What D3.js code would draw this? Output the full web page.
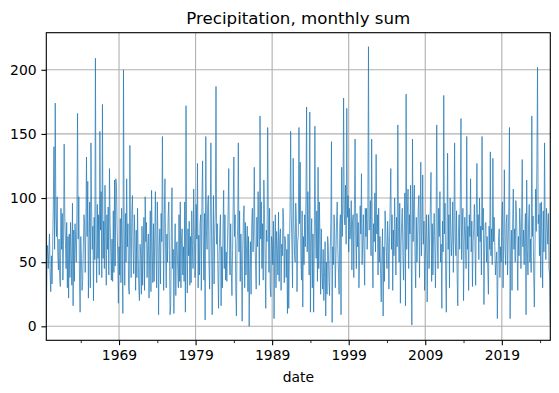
<!DOCTYPE html>
<html><head><meta charset="utf-8">
<script src="https://cdn.jsdelivr.net/npm/d3@7"></script>
<style>
body{margin:0;background:#fff}
svg{display:block}
text{font-family:"DejaVu Sans",sans-serif;fill:#000}
</style>
</head><body>
<svg id="chart" width="559" height="393"></svg>
<script>
// ---- data: monthly precipitation sums, starting July 1959 ----
const startYear = 1959, startMonth = 7;
const precip1959 = [3, 50, 63, 45, 58, 72];
const precip1960s = [
 40, 27, 55, 33, 63, 95, 140, 60, 174, 87, 70, 101,
 55, 44, 68, 38, 31, 92, 60, 88, 36, 63, 142, 85,
 66, 45, 81, 30, 70, 22, 72, 38, 81, 55, 32, 96,
 16, 75, 35, 80, 65, 50, 90, 166, 68, 101, 40, 11,
 70, 53, 28, 35, 60, 87, 81, 42, 75, 132, 70, 113,
 22, 64, 97, 30, 143, 92, 60, 78, 20, 85, 52, 209,
 66, 34, 95, 53, 87, 40, 152, 75, 105, 38, 173, 53,
 82, 45, 110, 70, 32, 87, 60, 93, 40, 123, 80, 58,
 36, 68, 35, 90, 42, 114, 47, 115, 110, 76, 55, 18,
 62, 40, 84, 34, 92, 65, 10, 200, 77, 32, 88, 50];
const precip1970s = [
 115, 62, 80, 30, 25, 141, 70, 38, 88, 102, 60, 41,
 87, 66, 28, 75, 38, 92, 57, 30, 20, 64, 55, 25,
 78, 32, 60, 85, 28, 101, 66, 81, 38, 63, 72, 22,
 58, 90, 27, 106, 60, 34, 80, 35, 68, 105, 55, 30,
 97, 70, 9, 62, 76, 33, 88, 66, 148, 75, 28, 87,
 115, 58, 30, 72, 50, 85, 97, 60, 9, 16, 72, 108,
 45, 60, 10, 55, 80, 24, 64, 66, 45, 30, 87, 35,
 97, 30, 70, 76, 40, 62, 35, 97, 11, 172, 60, 26,
 76, 55, 82, 32, 70, 34, 90, 63, 45, 107, 72, 38,
 50, 95, 68, 127, 30, 71, 40, 80, 87, 28, 100, 129];
const precip1980s = [
 66, 36, 88, 5, 148, 75, 60, 95, 102, 48, 29, 85,
 143, 70, 9, 60, 102, 33, 71, 90, 187, 64, 80, 42,
 14, 58, 75, 87, 16, 62, 30, 78, 106, 45, 87, 36,
 58, 35, 66, 90, 123, 55, 40, 80, 42, 24, 60, 95,
 132, 70, 87, 28, 8, 65, 76, 143, 58, 90, 35, 72,
 48, 4, 60, 85, 94, 30, 81, 40, 63, 78, 27, 70,
 0, 45, 66, 25, 80, 92, 58, 75, 124, 70, 48, 29,
 85, 62, 105, 78, 32, 164, 68, 97, 45, 80, 36, 114,
 88, 52, 14, 75, 66, 155, 90, 42, 92, 30, 23, 70,
 66, 48, 82, 6, 60, 87, 30, 74, 61, 40, 89, 35];
const precip1990s = [
 70, 76, 28, 64, 55, 92, 81, 34, 70, 66, 38, 60,
 10, 72, 14, 55, 88, 152, 87, 62, 30, 131, 80, 58,
 50, 96, 81, 27, 66, 71, 155, 80, 128, 55, 36, 90,
 15, 70, 48, 87, 62, 100, 171, 58, 105, 75, 40, 167,
 11, 66, 84, 30, 72, 11, 60, 156, 78, 53, 90, 35,
 124, 45, 97, 68, 25, 76, 42, 29, 60, 20, 38, 66,
 8, 50, 25, 70, 63, 35, 24, 58, 80, 144, 3, 62,
 48, 87, 75, 30, 55, 82, 97, 60, 42, 25, 78, 87,
 9, 124, 70, 95, 178, 88, 79, 110, 64, 170, 85, 102,
 58, 92, 68, 75, 98, 44, 82, 87, 38, 95, 146, 70];
const precip2000s = [
 45, 88, 62, 81, 30, 50, 94, 72, 119, 48, 66, 87,
 58, 32, 92, 70, 92, 60, 84, 218, 75, 76, 98, 55,
 146, 64, 30, 80, 66, 104, 58, 134, 72, 87, 40, 92,
 50, 70, 40, 19, 55, 76, 8, 62, 35, 90, 76, 58,
 45, 82, 66, 29, 70, 95, 123, 60, 87, 28, 75, 55,
 100, 71, 40, 85, 62, 157, 78, 50, 96, 18, 64, 80,
 92, 55, 36, 76, 104, 16, 181, 60, 88, 107, 45, 87,
 72, 110, 58, 1, 146, 66, 97, 110, 52, 30, 85, 50,
 70, 92, 102, 38, 78, 128, 55, 76, 118, 64, 82, 28,
 53, 70, 87, 19, 60, 87, 45, 72, 94, 120, 35, 80];
const precip2010s = [
 40, 71, 88, 62, 30, 78, 157, 66, 45, 92, 70, 105,
 50, 64, 14, 82, 58, 180, 72, 96, 40, 11, 70, 135,
 60, 87, 30, 100, 76, 55, 68, 97, 42, 80, 143, 66,
 55, 90, 38, 16, 70, 87, 60, 104, 162, 52, 75, 92,
 20, 64, 85, 71, 45, 148, 60, 78, 28, 87, 70, 115,
 58, 82, 31, 66, 76, 95, 61, 32, 88, 127, 70, 87,
 52, 100, 66, 78, 40, 148, 75, 92, 17, 60, 80, 81,
 50, 70, 45, 25, 78, 60, 136, 55, 76, 48, 131, 66,
 85, 63, 40, 50, 58, 6, 45, 70, 76, 38, 62, 50,
 82, 97, 30, 70, 122, 60, 48, 80, 87, 40, 66, 94];
const precip2020s = [
 155, 6, 58, 75, 28, 81, 107, 60, 76, 50, 98, 87,
 64, 28, 70, 55, 92, 78, 45, 84, 130, 62, 75, 48,
 71, 88, 9, 114, 60, 40, 81, 95, 50, 68, 42, 164,
 70, 86, 40, 15, 60, 107, 74, 130, 202, 80, 87, 55,
 96, 38, 97, 72, 30, 90, 58, 143, 75, 52, 92, 81,
 64, 88, 45, 40, 2];

const majorTickYears = [1969, 1979, 1989, 1999, 2009, 2019];
const minorTickYears = [1964, 1974, 1984, 1994, 2004, 2014, 2024];
const yTicks = [0, 50, 100, 150, 200];
const titleText = "Precipitation, monthly sum";
const xLabelText = "date";

// ---- drawing ----
const values = [].concat(precip1959, precip1960s, precip1970s, precip1980s,
  precip1990s, precip2000s, precip2010s, precip2020s);
const data = values.map((v, i) => ({ i, v }));
const monthIndex = (yr, m) => (yr - startYear) * 12 + (m - startMonth);

const L = 46.3, R = 550.3, T = 32.7, B = 340.3;
const svg = d3.select("#chart");

const x = d3.scaleLinear().domain([0, values.length - 1]).range([L, R]);
const [mn, mx] = d3.extent(values);
const pad = (mx - mn) * 0.05;
const y = d3.scaleLinear().domain([mn - pad, mx + pad]).range([B, T]);

const gridColor = "#b0b0b0";
// grid
svg.append("g").selectAll("line").data(majorTickYears).join("line")
  .attr("x1", d => x(monthIndex(d, 1))).attr("x2", d => x(monthIndex(d, 1)))
  .attr("y1", T).attr("y2", B)
  .attr("stroke", gridColor).attr("stroke-width", 1.1);
svg.append("g").selectAll("line").data(yTicks).join("line")
  .attr("x1", L).attr("x2", R)
  .attr("y1", d => y(d)).attr("y2", d => y(d))
  .attr("stroke", gridColor).attr("stroke-width", 1.1);

// clip
svg.append("clipPath").attr("id", "clip").append("rect")
  .attr("x", L).attr("y", T).attr("width", R - L).attr("height", B - T);

// line
svg.append("path").datum(data)
  .attr("clip-path", "url(#clip)")
  .attr("fill", "none").attr("stroke", "#1f77b4").attr("stroke-width", 0.7)
  .attr("stroke-linejoin", "round")
  .attr("d", d3.line().x(d => x(d.i)).y(d => y(d.v)));

// axes
const fs = 13.9;
const xAxis = d3.axisBottom(x)
  .tickValues(majorTickYears.map(yr => monthIndex(yr, 1)))
  .tickFormat((d, k) => String(majorTickYears[k]))
  .tickSize(4.86).tickPadding(4.86);
const gx = svg.append("g").attr("transform", `translate(0,${B})`).call(xAxis);
gx.select(".domain").remove();
gx.selectAll("line").attr("stroke", "#000").attr("stroke-width", 1.1);
gx.selectAll("text").attr("font-size", fs).attr("font-family", "DejaVu Sans");

const xMinor = d3.axisBottom(x)
  .tickValues(minorTickYears.map(yr => monthIndex(yr, 1)))
  .tickFormat("").tickSize(2.78);
const gxm = svg.append("g").attr("transform", `translate(0,${B})`).call(xMinor);
gxm.select(".domain").remove();
gxm.selectAll("line").attr("stroke", "#000").attr("stroke-width", 0.83);

const yAxis = d3.axisLeft(y).tickValues(yTicks).tickSize(4.86).tickPadding(4.86);
const gy = svg.append("g").attr("transform", `translate(${L},0)`).call(yAxis);
gy.select(".domain").remove();
gy.selectAll("line").attr("stroke", "#000").attr("stroke-width", 1.1);
gy.selectAll("text").attr("font-size", fs).attr("font-family", "DejaVu Sans");

// spines
svg.append("rect").attr("x", L).attr("y", T).attr("width", R - L).attr("height", B - T)
  .attr("fill", "none").attr("stroke", "#000").attr("stroke-width", 1.1);

// title & label
svg.append("text").attr("x", (L + R) / 2).attr("y", 24.4)
  .attr("text-anchor", "middle").attr("font-size", 16.67).text(titleText);
svg.append("text").attr("x", (L + R) / 2).attr("y", 382.3)
  .attr("text-anchor", "middle").attr("font-size", fs).text(xLabelText);
</script>
</body></html>
